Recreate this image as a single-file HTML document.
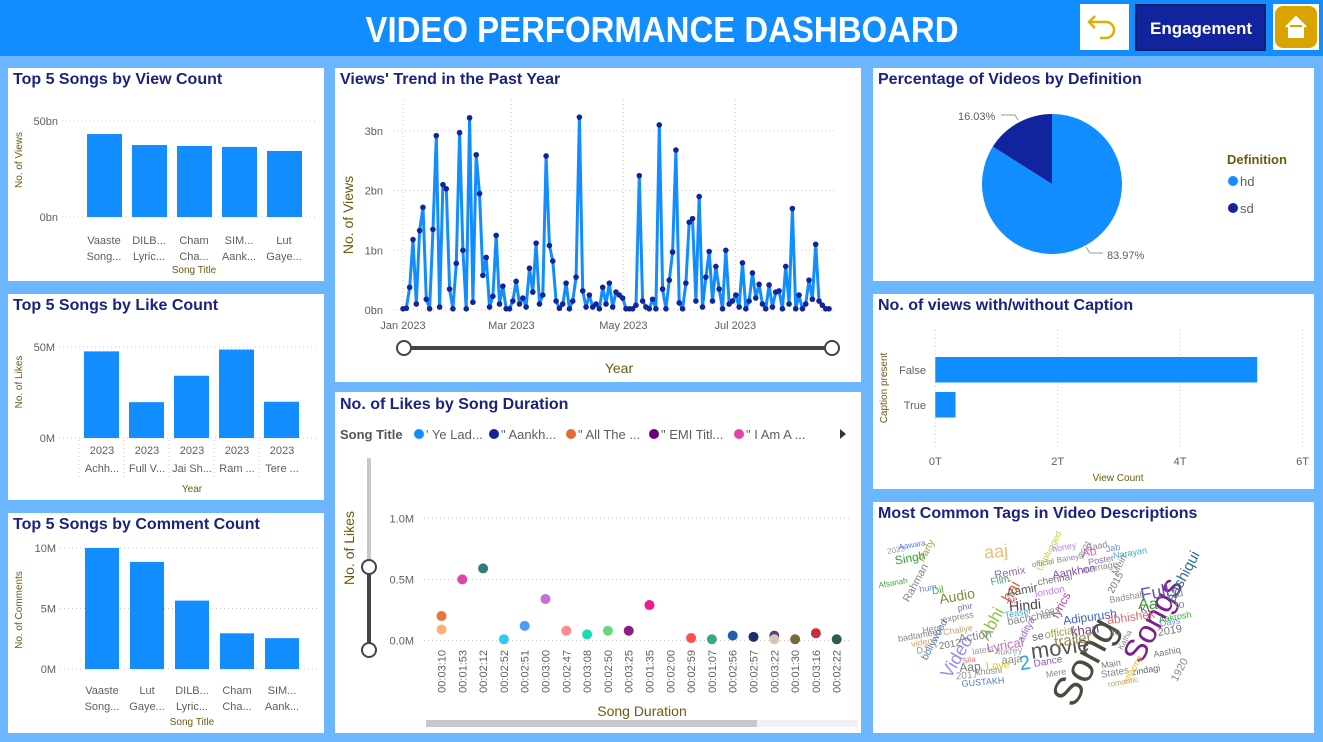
<!DOCTYPE html>
<html><head><meta charset="utf-8"><style>
html,body{margin:0;padding:0;background:#6CB6FF;}
svg{display:block;font-family:"Liberation Sans",sans-serif;}
.ttl{font-weight:bold;font-size:16px;fill:#1A237E;}
.tk{font-size:11px;fill:#605E5C;}
.ax{font-size:10px;fill:#6B5B10;}
.wc{position:absolute;white-space:nowrap;font-family:"Liberation Sans",sans-serif;transform-origin:center;}
</style></head><body>
<div style="position:relative;width:1323px;height:742px;overflow:hidden">
<svg id="s" width="1323" height="742" viewBox="0 0 1323 742">
<rect x="0" y="0" width="1323" height="742" fill="#6CB6FF"/>
<rect x="0" y="0" width="1323" height="56" fill="#118DFF"/>
<text x="662" y="42" text-anchor="middle" font-size="36" font-weight="bold" fill="#fff" textLength="593" lengthAdjust="spacingAndGlyphs">VIDEO PERFORMANCE DASHBOARD</text>
<g><rect x="1080" y="4" width="49" height="46" fill="#fff"/>
<path d="M1095 16 L1089 22 L1095 28 M1089 22 H1106 A8 8 0 0 1 1106 38 H1100" fill="none" stroke="#E0B000" stroke-width="2.5"/></g>
<g><rect x="1135" y="4" width="131" height="47" fill="#0F1F6E"/><rect x="1137" y="6" width="127" height="43" fill="#12239E"/>
<text x="1201" y="34" text-anchor="middle" font-size="17" font-weight="bold" fill="#fff">Engagement</text></g>
<g><rect x="1273" y="4" width="46" height="46" fill="#fff"/><rect x="1275" y="6" width="42" height="42" rx="8" fill="#D9A400"/>
<path d="M1286 27 L1296 17 L1306 27 M1289 25 V37 H1303 V25" fill="#fff" stroke="#fff" stroke-width="2"/></g>

<!-- panels -->
<rect x="8" y="68" width="316" height="213" fill="#fff"/>
<rect x="8" y="294" width="316" height="206" fill="#fff"/>
<rect x="8" y="513" width="316" height="220" fill="#fff"/>
<rect x="335" y="68" width="526" height="314" fill="#fff"/>
<rect x="335" y="392" width="526" height="341" fill="#fff"/>
<rect x="873" y="68" width="441" height="213" fill="#fff"/>
<rect x="873" y="294" width="441" height="195" fill="#fff"/>
<rect x="873" y="502" width="441" height="231" fill="#fff"/>

<text class="ttl" x="13" y="84">Top 5 Songs by View Count</text>
<text class="ttl" x="13" y="310">Top 5 Songs by Like Count</text>
<text class="ttl" x="13" y="529">Top 5 Songs by Comment Count</text>
<text class="ttl" x="340" y="84">Views' Trend in the Past Year</text>
<text class="ttl" x="340" y="409">No. of Likes by Song Duration</text>
<text class="ttl" x="878" y="84">Percentage of Videos by Definition</text>
<text class="ttl" x="878" y="310">No. of views with/without Caption</text>
<text class="ttl" x="878" y="518">Most Common Tags in Video Descriptions</text>

<g id="gView"></g><g id="gLike"></g><g id="gCom"></g><g id="gTrend"></g><g id="gScat"></g><g id="gPie"></g><g id="gCap"></g>
</svg>
<div id="wc"></div>
</div>
<script>
const NS='http://www.w3.org/2000/svg';
function mk(tag,attrs,parent,txt){const e=document.createElementNS(NS,tag);for(const k in attrs)e.setAttribute(k,attrs[k]);if(txt!==undefined)e.textContent=txt;parent.appendChild(e);return e;}
const BLUE='#118DFF';

// ---- data ----
const viewSongs1=['Vaaste','DILB...','Cham','SIM...','Lut'];
const viewSongs2=['Song...','Lyric...','Cha...','Aank...','Gaye...'];
const viewValues=[43.2,37.5,37.0,36.5,34.4];
const viewTicks=['0bn','50bn'];
const likeSongs=['Achh...','Full V...','Jai Sh...','Ram ...','Tere ...'];
const likeYears=['2023','2023','2023','2023','2023'];
const likeValues=[47.6,19.7,34.2,48.6,19.9];
const likeTicks=['0M','50M'];
const comSongs1=['Vaaste','Lut','DILB...','Cham','SIM...'];
const comSongs2=['Song...','Gaye...','Lyric...','Cha...','Aank...'];
const comValues=[10.0,8.85,5.65,2.95,2.55];
const comTicks=['0M','5M','10M'];
const trendValues=[0.02,0.03,0.38,1.18,0.1,1.33,1.72,0.18,0.02,1.35,2.92,0.05,2.1,2.03,0.35,0.02,0.78,2.97,1.0,0.02,3.22,0.13,2.6,1.95,0.58,0.88,0.05,0.23,1.25,0.1,0.4,0.02,0.02,0.15,0.48,0.1,0.2,0.05,0.7,0.3,1.12,0.1,0.25,2.58,1.08,0.82,0.15,0.03,0.1,0.45,0.02,0.15,0.55,3.23,0.32,0.05,0.25,0.05,0.1,0.02,0.38,0.1,0.45,0.05,0.3,0.25,0.2,0.02,0.02,0.02,0.08,2.25,0.15,0.05,0.02,0.18,0.02,3.1,0.35,0.02,0.5,0.97,2.68,0.12,0.02,0.45,1.47,1.53,0.15,1.9,0.05,0.55,0.98,0.15,0.73,0.35,0.02,1.0,0.1,0.15,0.25,0.05,0.79,0.02,0.15,0.62,0.2,0.43,0.1,0.02,0.42,0.05,0.3,0.32,0.02,0.73,0.1,1.7,0.02,0.25,0.02,0.1,0.5,0.18,1.1,0.15,0.08,0.02,0.02];
const trendTicks=['0bn','1bn','2bn','3bn'];
const trendMonths=['Jan 2023','Mar 2023','May 2023','Jul 2023'];
const trendMonthDays=[0,59,120,181];
const trendSpanDays=232;
const durLabels=['00:03:10','00:01:53','00:02:12','00:02:52','00:02:51','00:03:00','00:02:47','00:03:08','00:02:50','00:03:25','00:01:35','00:02:00','00:02:59','00:01:07','00:02:56','00:02:57','00:03:22','00:01:30','00:03:16','00:02:22'];
const scatCat=[0,0,1,2,3,4,5,6,7,8,9,10,12,13,14,15,16,16,17,18,19];
const scatLikes=[0.2,0.09,0.5,0.59,0.01,0.12,0.34,0.08,0.05,0.08,0.08,0.29,0.02,0.01,0.04,0.03,0.04,0.01,0.01,0.06,0.01];
const scatColors=['#E8743B','#FFB070','#E044A7','#2E7D7B','#35C8F0','#4C9BFF','#C26FD6','#FF8A8A','#1FD9B8','#6BD67B','#8B1D8B','#E91E8C','#FF4F4F','#3AA68D','#1F5FAE','#1A2F6B','#5B3F7E','#D9C4B8','#776A3F','#C62E3A','#2E5C4E'];
const scatTicks=[0,0.5,1.0];
const pieLabels=['hd','sd'];
const pieValues=[83.97,16.03];
const capCats=['False','True'];
const capValues=[5.26,0.33];
const capTicks=[0,2,4,6];

// ---- generic vertical bar chart ----
function vbar(gid,vals,max,y0,y1,xs,w,ticks,tickVals,tickX,name){
  const g=document.getElementById(gid);
  const sy=v=>y0-(v/max)*(y0-y1);
  ticks.forEach((t,i)=>{const y=sy(tickVals[i]);
    const l=mk('line',{x1:tickX+4,x2:318,y1:y,y2:y,stroke:'#C8C8C8','stroke-dasharray':'1 3'},g);
    
    const t2=mk('text',{x:tickX,y:y+4,'text-anchor':'end',class:'tk'},g,t);
    });
  vals.forEach((v,i)=>{const r=mk('rect',{x:xs+i*45,y:sy(v),width:w,height:y0-sy(v),fill:BLUE},g);
    });
  return g;
}
// view
let g=vbar('gView',viewValues,50,217,121,87,35,viewTicks,[0,50],58,'view-count');
viewSongs1.forEach((s,i)=>{const cx=104+i*45;
 let t=mk('text',{x:cx,y:244,'text-anchor':'middle',class:'tk','font-size':'12'},g,s);
 t=mk('text',{x:cx,y:260,'text-anchor':'middle',class:'tk','font-size':'12'},g,viewSongs2[i]);});
let t=mk('text',{x:194,y:273,'text-anchor':'middle',class:'ax'},g,'Song Title');
t=mk('text',{x:0,y:0,'text-anchor':'middle',class:'ax',transform:'translate(22,160) rotate(-90)'},g,'No. of Views');
// like
g=vbar('gLike',likeValues,50,438,347,84,35,likeTicks,[0,50],55,'like-count');
likeSongs.forEach((s,i)=>{const cx=102+i*45;
 let t=mk('text',{x:cx,y:454,'text-anchor':'middle',class:'tk','font-size':'12'},g,likeYears[i]);
 t=mk('text',{x:cx,y:472,'text-anchor':'middle',class:'tk','font-size':'12'},g,s);
 const l=mk('line',{x1:cx-23,x2:cx-23,y1:440,y2:478,stroke:'#C8C8C8','stroke-dasharray':'1 3'},g);});
t=mk('text',{x:192,y:492,'text-anchor':'middle',class:'ax'},g,'Year');
t=mk('text',{x:0,y:0,'text-anchor':'middle',class:'ax',transform:'translate(22,382) rotate(-90)'},g,'No. of Likes');
// comments
g=vbar('gCom',comValues,10,669,548,85,34,comTicks,[0,5,10],56,'comment-count');
comSongs1.forEach((s,i)=>{const cx=102+i*45;
 let t=mk('text',{x:cx,y:694,'text-anchor':'middle',class:'tk','font-size':'12'},g,s);
 t=mk('text',{x:cx,y:710,'text-anchor':'middle',class:'tk','font-size':'12'},g,comSongs2[i]);});
t=mk('text',{x:192,y:725,'text-anchor':'middle',class:'ax'},g,'Song Title');
t=mk('text',{x:0,y:0,'text-anchor':'middle',class:'ax',transform:'translate(22,610) rotate(-90)'},g,'No. of Comments');

// ---- trend ----
g=document.getElementById('gTrend');
const tx0=403,tx1=829,ty0=310,tyPer=59.7;
const txd=d=>tx0+d*(tx1-tx0)/trendSpanDays;
const txi=i=>tx0+i*(tx1-tx0)/(trendValues.length-1);
const tyv=v=>ty0-v*tyPer;
trendTicks.forEach((s,i)=>{const y=tyv(i);
 const l=mk('line',{x1:393,x2:836,y1:y,y2:y,stroke:'#C8C8C8','stroke-dasharray':'1 3'},g);
 const t=mk('text',{x:383,y:y+4,'text-anchor':'end',class:'tk','font-size':'12'},g,s);});
trendMonths.forEach((s,i)=>{const x=txd(trendMonthDays[i]);
 const l=mk('line',{x1:x,x2:x,y1:100,y2:310,stroke:'#C8C8C8','stroke-dasharray':'1 3'},g);
 const t=mk('text',{x:x,y:329,'text-anchor':'middle',class:'tk','font-size':'12'},g,s);});
const pts=trendValues.map((v,i)=>txi(i).toFixed(1)+','+tyv(v).toFixed(1)).join(' ');
const pl=mk('polyline',{points:pts,fill:'none',stroke:BLUE,'stroke-width':'3','stroke-linejoin':'round'},g);

trendValues.forEach((v,i)=>{const c=mk('circle',{cx:txi(i),cy:tyv(v),r:2.8,fill:'#12239E'},g);});
t=mk('text',{x:0,y:0,'text-anchor':'middle',fill:'#6B5B10','font-size':'14',transform:'translate(353,215) rotate(-90)'},g,'No. of Views');
let sl=mk('line',{x1:404,x2:832,y1:348,y2:348,stroke:'#444','stroke-width':'4'},g);
let h=mk('circle',{cx:404,cy:348,r:7,fill:'#fff',stroke:'#444','stroke-width':'2'},g);
h=mk('circle',{cx:832,cy:348,r:7,fill:'#fff',stroke:'#444','stroke-width':'2'},g);
t=mk('text',{x:619,y:373,'text-anchor':'middle',fill:'#6B5B10','font-size':'14'},g,'Year');

// ---- scatter ----
g=document.getElementById('gScat');
const sx=i=>441.5+i*20.8, sy2=v=>640.5-v*122.2;
t=mk('text',{x:340,y:439,'font-size':'13','font-weight':'bold',fill:'#555'},g,'Song Title');
const legNames=["' Ye Lad...",'" Aankh...','" All The ...','" EMI Titl...','" I Am A ...'];
const legCols=['#118DFF','#12239E','#E66C37','#6B007B','#E044A7'];
const legX=[419,494,571,654,739];
legNames.forEach((s,i)=>{const c=mk('circle',{cx:legX[i],cy:434,r:5,fill:legCols[i]},g);
 const tt=mk('text',{x:legX[i]+7,y:439,'font-size':'13',fill:'#605E5C'},g,s);});
t=mk('path',{d:'M840 429 L846 434 L840 439 Z',fill:'#333'},g);
scatTicks.forEach(v=>{const y=sy2(v);
 const l=mk('line',{x1:424,x2:852,y1:y,y2:y,stroke:'#C8C8C8','stroke-dasharray':'1 3'},g);
 const tt=mk('text',{x:414,y:y+4,'text-anchor':'end',class:'tk','font-size':'12'},g,v.toFixed(1)+'M');});
durLabels.forEach((s,i)=>{const tt=mk('text',{x:0,y:0,'text-anchor':'end',class:'tk','font-size':'11',transform:'translate('+(sx(i)+4)+',650) rotate(-90)'},g,s);});
scatLikes.forEach((v,i)=>{const c=mk('circle',{cx:sx(scatCat[i]),cy:sy2(v),r:5,fill:scatColors[i]},g);});
t=mk('text',{x:0,y:0,'text-anchor':'middle',fill:'#6B5B10','font-size':'14',transform:'translate(354,548) rotate(-90)'},g,'No. of Likes');
t=mk('text',{x:642,y:716,'text-anchor':'middle',fill:'#6B5B10','font-size':'14'},g,'Song Duration');
sl=mk('line',{x1:369,x2:369,y1:458,y2:567,stroke:'#C8C8C8','stroke-width':'4'},g);
sl=mk('line',{x1:369,x2:369,y1:567,y2:650,stroke:'#444','stroke-width':'4'},g);
h=mk('circle',{cx:369,cy:567,r:7,fill:'#fff',stroke:'#444','stroke-width':'2'},g);
h=mk('circle',{cx:369,cy:650,r:7,fill:'#fff',stroke:'#444','stroke-width':'2'},g);
sl=mk('rect',{x:426,y:720,width:432,height:7,fill:'#F0F0F0'},g);
sl=mk('rect',{x:426,y:720,width:331,height:7,fill:'#C8C8C8'},g);

// ---- pie ----
g=document.getElementById('gPie');
const pcx=1052,pcy=184,pr=70,pieCols=['#118DFF','#12239E'];
const tot=pieValues.reduce((a,b)=>a+b,0);
let a0=0;
pieValues.forEach((v,i)=>{const a1=a0+v/tot*2*Math.PI;
 const p=(a)=>[pcx+pr*Math.sin(a),pcy-pr*Math.cos(a)];
 const [x0,y0]=p(a0),[x1,y1]=p(a1);
 const s=mk('path',{d:`M${pcx},${pcy} L${x0},${y0} A${pr},${pr} 0 ${a1-a0>Math.PI?1:0} 1 ${x1},${y1} Z`,fill:pieCols[i]},g);
 
 a0=a1;});
t=mk('text',{x:958,y:120,'font-size':'11',fill:'#605E5C'},g,pieValues[1].toFixed(2)+'%');
t=mk('path',{d:'M1001 115 L1015 115 L1018 120',fill:'none',stroke:'#999'},g);
t=mk('text',{x:1107,y:259,'font-size':'11',fill:'#605E5C'},g,pieValues[0].toFixed(2)+'%');
t=mk('path',{d:'M1086 247 L1090 253 L1103 253',fill:'none',stroke:'#999'},g);
t=mk('text',{x:1227,y:164,'font-size':'13','font-weight':'bold',fill:'#6B5B10'},g,'Definition');
pieLabels.forEach((s,i)=>{const y=181+i*27;
 const c=mk('circle',{cx:1233,cy:y,r:5,fill:pieCols[i]},g);
 const tt=mk('text',{x:1240,y:y+5,'font-size':'13',fill:'#605E5C'},g,s);});

// ---- caption ----
g=document.getElementById('gCap');
const cx0=935.3,cpt=61.2;
const cxv=v=>cx0+v*cpt;
capTicks.forEach(v=>{const x=cxv(v);
 const l=mk('line',{x1:x,x2:x,y1:330,y2:448,stroke:'#C8C8C8','stroke-dasharray':'1 3'},g);
 const tt=mk('text',{x:x,y:465,'text-anchor':'middle',class:'tk','font-size':'12'},g,v+'T');});
capValues.forEach((v,i)=>{const y=357+i*35;
 const r=mk('rect',{x:cx0,y:y,width:cxv(v)-cx0,height:25.5,fill:BLUE},g);
 const tt=mk('text',{x:926,y:y+17,'text-anchor':'end',class:'tk','font-size':'12'},g,capCats[i]);});
t=mk('text',{x:1118,y:481,'text-anchor':'middle',class:'ax'},g,'View Count');
t=mk('text',{x:0,y:0,'text-anchor':'middle',class:'ax',transform:'translate(887,388) rotate(-90)'},g,'Caption present');

// ---- word cloud ----
const words=[
['Song',1085,662,40,-62,'#4B4B3F'],['Songs',1153,620,32,-62,'#7B1E8E'],['movie',1060,648,22,-8,'#555'],['Full',1155,593,18,-10,'#6A4FB0'],
['aashiqui',1183,577,15,-62,'#2E6E8E'],['Aa',1148,605,16,0,'#3A9A3A'],['Video',957,657,18,-60,'#9C8CF0'],['Abhi',992,624,17,-62,'#8BC34A'],
['trailer',1073,640,15,-8,'#9B8A52'],['Hindi',1025,605,14,-5,'#444'],['hai',1012,592,16,-62,'#D96A3A'],['aaj',996,552,18,-5,'#E8C080'],
['Audio',957,596,14,-10,'#7A8A3A'],['Adipurush',1090,617,12,-8,'#4060C0'],['abhishek',1131,617,12,-8,'#E06A6A'],['khan',1085,630,13,-8,'#7A3E8A'],
['Lyrical',1005,645,13,-10,'#C06AC0'],['Action',975,636,12,-10,'#888'],['Singh',910,558,12,-10,'#3A9A3A'],['2',1025,664,20,-10,'#29A8E0'],
['Aap',970,667,12,-5,'#777'],['2017',967,676,10,-5,'#999'],['GUSTAKH',983,682,9,-5,'#4A7AC0'],['khushi',989,671,9,-5,'#888'],['Love',998,666,11,-5,'#E8C820'],
['aaja',1012,660,11,-5,'#888'],['fukrey',1010,651,9,-5,'#999'],['latest',983,650,9,-10,'#999'],['Remix',1010,573,11,-10,'#8A6AB0'],['Film',1000,581,10,-10,'#3AAA6A'],
['Aamir',1022,590,12,-10,'#555'],['bachchan',1031,618,11,-10,'#888'],['Aankhon',1074,572,11,-10,'#8A4AB0'],['chennai',1055,580,10,-10,'#777'],['london',1050,592,10,-10,'#C080F0'],
['lyrics',1061,605,12,-62,'#C040A0'],['official',1060,633,11,-10,'#A0A040'],['se',1038,637,11,-10,'#666'],['Dance',1048,662,10,-10,'#8A5AC0'],['Mere',1056,673,9,-10,'#888'],
['States',1115,673,10,-10,'#888'],['Main',1111,664,9,-10,'#777'],['romantic',1123,682,8,-10,'#C0A070'],['zindagi',1146,670,9,-10,'#666'],['sharma',1133,669,9,-62,'#E8C020'],
['Aashiq',1167,652,9,-10,'#777'],['2019',1170,631,11,-10,'#777'],['Days',1170,622,9,-10,'#6A8AE0'],['Aakrosh',1175,617,9,-10,'#3AAA3A'],['1920',1180,670,11,-62,'#888'],
['Tu',1177,594,11,-10,'#888'],['to',1180,605,11,-10,'#888'],['Unplugged',1049,551,9,-62,'#C8D040'],['Ab',1089,552,12,-10,'#E06AC0'],['Poster',1101,560,9,-10,'#8A6AB0'],
['marriage',1100,567,9,-10,'#888'],['Narayan',1130,553,9,-10,'#3AAACA'],['Baad',1097,546,9,-10,'#888'],['Jab',1113,548,9,-10,'#6A8AE0'],['Mein',1120,565,10,-62,'#888'],
['Rahman',916,583,11,-62,'#888'],['Party',927,551,10,-62,'#A0A040'],['Aawara',912,545,8,-10,'#4A7AF0'],['2023',896,550,8,-10,'#999'],['Afsanah',893,583,8,-10,'#3AAA3A'],
['hum',928,588,9,-10,'#6A8AE0'],['Dil',938,591,10,-10,'#3AAA3A'],['phir',965,607,9,-10,'#8A6AB0'],['express',958,617,9,-10,'#888'],['Chaliye',958,630,9,-10,'#C0A070'],
['Hero',932,629,9,-10,'#888'],['badtameez',920,635,9,-10,'#888'],['videos',924,642,9,-10,'#E0A070'],['bollywood',935,640,10,-62,'#4A7AC0'],['2012',950,645,10,-10,'#777'],
['Teaser',1018,613,9,-10,'#3AAACA'],['aditya',1027,630,10,-62,'#A060D0'],['1982',1050,612,9,-10,'#888'],['Ae',1012,600,9,-10,'#E0407A'],['official',1043,563,8,-10,'#888'],
['Sila',969,660,8,-10,'#E07070'],['DJ',922,650,9,-10,'#888'],['honey',1064,547,9,-10,'#C080F0'],['Baneya',1070,558,8,-10,'#888'],['2021',1085,549,8,-62,'#888'],
['Badshah',1127,597,9,-10,'#888'],['2015',1116,583,10,-62,'#777'],['Ki',1145,610,10,-10,'#555'],['Jo',1115,633,10,-10,'#777'],['Katha',1125,640,8,-62,'#888']
];
const wc=document.getElementById('wc');
words.forEach(w=>{const d=document.createElement('div');
 d.className='wc';d.textContent=w[0];
 d.style.left=w[1]+'px';d.style.top=w[2]+'px';d.style.fontSize=w[3]+'px';d.style.color=w[5];
 d.style.transform='translate(-50%,-50%) rotate('+w[4]+'deg)';
 
 
 wc.appendChild(d);});
</script>
</body></html>
